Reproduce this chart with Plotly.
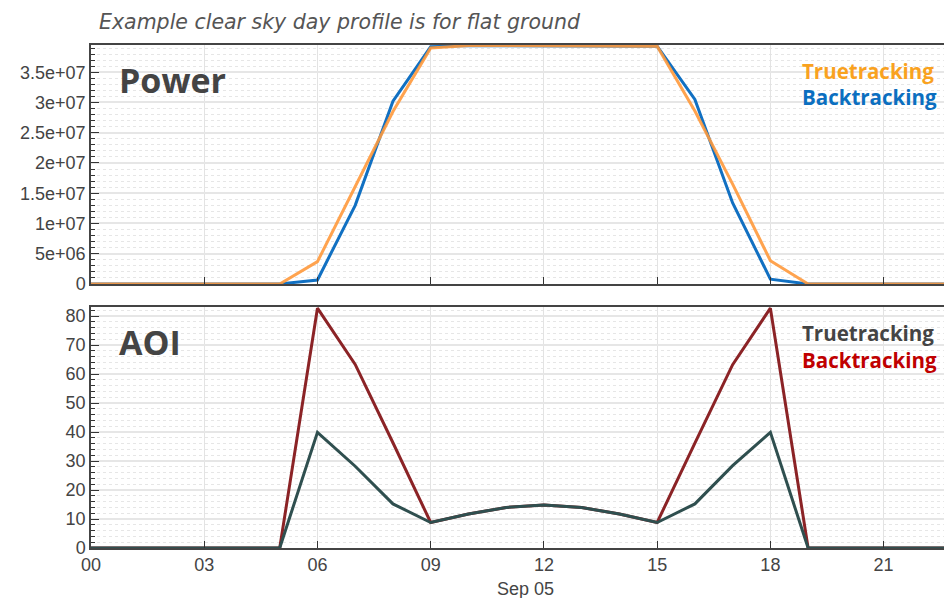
import plotly.graph_objects as go
import pandas as pd

hours = pd.date_range("2019-09-05 00:00", periods=24, freq="h")

power_true = [0, 0, 0, 0, 0, 0, 3.7e6, 16.1e6, 28.5e6, 39.0e6, 39.4e6, 39.4e6,
              39.4e6, 39.4e6, 39.4e6, 39.3e6, 28.6e6, 16.5e6, 3.85e6, 0, 0, 0, 0, 0]
power_back = [0, 0, 0, 0, 0, 0, 0.66e6, 13.0e6, 30.2e6, 39.2e6, 39.4e6, 39.4e6,
              39.4e6, 39.4e6, 39.4e6, 39.3e6, 30.5e6, 13.4e6, 0.8e6, 0, 0, 0, 0, 0]
aoi_true = [0, 0, 0, 0, 0, 0, 39.9, 28.2, 15.2, 8.8, 11.7, 14.0,
            14.8, 14.0, 11.7, 8.8, 15.2, 28.4, 39.9, 0, 0, 0, 0, 0]
aoi_back = [0, 0, 0, 0, 0, 0, 82.7, 63.3, 36.3, 8.8, 11.7, 14.0,
            14.8, 14.0, 11.7, 8.8, 36.2, 63.2, 82.7, 0, 0, 0, 0, 0]

power_tickvals = [0, 5e6, 1e7, 1.5e7, 2e7, 2.5e7, 3e7, 3.5e7]
power_ticktext = ["0", "5e+06", "1e+07", "1.5e+07", "2e+07", "2.5e+07", "3e+07", "3.5e+07"]
aoi_tickvals = [0, 10, 20, 30, 40, 50, 60, 70, 80]

TICKFONT = dict(family="Liberation Sans", size=18, color="#444")
BOLD = "Open Sans"

fig = go.Figure()
fig.add_trace(go.Scatter(x=hours, y=power_back, mode="lines", line=dict(color="#1170c2", width=3),
                         xaxis="x", yaxis="y", name="Backtracking"))
fig.add_trace(go.Scatter(x=hours, y=power_true, mode="lines", line=dict(color="#ff9a3c", width=3),
                         opacity=0.9, xaxis="x", yaxis="y", name="Truetracking"))
fig.add_trace(go.Scatter(x=hours, y=aoi_back, mode="lines", line=dict(color="#8b2326", width=3),
                         xaxis="x2", yaxis="y2", name="Backtracking"))
fig.add_trace(go.Scatter(x=hours, y=aoi_true, mode="lines", line=dict(color="#2f4f4f", width=3),
                         xaxis="x2", yaxis="y2", name="Truetracking"))

xrange = ["2019-09-05 00:00", "2019-09-05 22:36"]
common_x = dict(range=xrange, type="date", dtick=3 * 3600 * 1000, tick0="2019-09-05 00:00",
                tickformat="%H", showgrid=True, gridcolor="#e3e3e3", gridwidth=1,
                showline=True, linecolor="#444", linewidth=1.5, mirror=True,
                ticks="inside", ticklen=7, tickcolor="#333", tickfont=TICKFONT, zeroline=False)
common_y = dict(showgrid=True, gridcolor="#e6e6e6", gridwidth=1.5, showline=True, linecolor="#444",
                linewidth=1.5, ticks="inside", ticklen=8, tickcolor="#333", tickfont=TICKFONT,
                zeroline=False,
                minor=dict(showgrid=True, gridcolor="#e6e6e6", griddash="dot", gridwidth=1,
                           ticks="inside", ticklen=4, tickcolor="#333"))

fig.update_layout(
    width=944, height=598,
    margin=dict(l=91, r=0, t=45, b=50),
    paper_bgcolor="white", plot_bgcolor="white",
    showlegend=False,
    xaxis=dict(common_x, domain=[0, 1], anchor="y", showticklabels=False, matches="x2"),
    yaxis=dict(common_y, domain=[0.5249, 1], anchor="x", range=[0, 39.5e6],
               tickmode="array", tickvals=power_tickvals, ticktext=power_ticktext,
               minor=dict(common_y["minor"], dtick=1e6, tick0=0)),
    xaxis2=dict(common_x, domain=[0, 1], anchor="y2"),
    yaxis2=dict(common_y, domain=[0, 0.4791], anchor="x2", range=[0, 83.1],
                tickmode="array", tickvals=aoi_tickvals,
                minor=dict(common_y["minor"], dtick=2, tick0=0)),
)

ann = [
    dict(text="<i>Example clear sky day profile is for flat ground</i>", xref="paper", yref="paper",
         x=0.007, y=1.0457, xanchor="left", yanchor="middle", showarrow=False,
         font=dict(family="DejaVu Sans", size=20.5, color="#555")),
    dict(text="<b>Power</b>", xref="paper", yref="paper", x=0.0305, y=0.930,
         xanchor="left", yanchor="middle", showarrow=False,
         font=dict(family=BOLD, size=34, color="#444")),
    dict(text="<b>AOI</b>", xref="paper", yref="paper", x=0.0305, y=0.4095,
         xanchor="left", yanchor="middle", showarrow=False,
         font=dict(family=BOLD, size=34, color="#444")),
    dict(text="<b>Truetracking</b>", xref="paper", yref="paper", x=0.831, y=0.948,
         xanchor="left", yanchor="middle", showarrow=False,
         font=dict(family=BOLD, size=20.5, color="#f9a21f")),
    dict(text="<b>Backtracking</b>", xref="paper", yref="paper", x=0.831, y=0.8966,
         xanchor="left", yanchor="middle", showarrow=False,
         font=dict(family=BOLD, size=20.5, color="#0b6fc0")),
    dict(text="<b>Truetracking</b>", xref="paper", yref="paper", x=0.831, y=0.4274,
         xanchor="left", yanchor="middle", showarrow=False,
         font=dict(family=BOLD, size=20.5, color="#444")),
    dict(text="<b>Backtracking</b>", xref="paper", yref="paper", x=0.831, y=0.3738,
         xanchor="left", yanchor="middle", showarrow=False,
         font=dict(family=BOLD, size=20.5, color="#c00000")),
    dict(text="Sep 05", xref="x2", yref="paper", x="2019-09-05 11:30", y=-0.0815,
         xanchor="center", yanchor="middle", showarrow=False, font=TICKFONT),
]
fig.update_layout(annotations=ann)

fig.write_html("out.html", config={"displayModeBar": False},
               post_script="document.body.style.margin='0';document.body.style.overflow='hidden';")
